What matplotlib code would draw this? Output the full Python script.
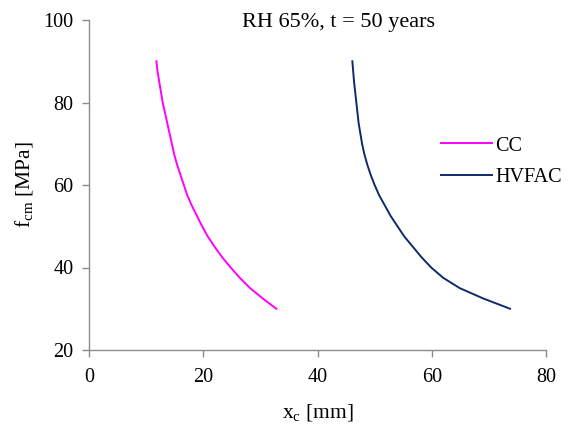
import matplotlib
matplotlib.use("Agg")
import matplotlib.pyplot as plt

plt.rcParams['font.family'] = ['Liberation Serif', 'DejaVu Serif']
plt.rcParams['mathtext.fontset'] = 'custom'
plt.rcParams['mathtext.rm'] = 'Liberation Serif'
plt.rcParams['mathtext.it'] = 'Liberation Serif:italic'

# Data
fcm = [90, 87.5, 85, 82.5, 80, 77.5, 75, 72.5, 70, 67.5, 65, 62.5, 60,
       57.5, 55, 52.5, 50, 47.5, 45, 42.5, 40, 37.5, 35, 32.5, 30]
xc_cc = [11.8, 12.0, 12.3, 12.6, 12.9, 13.3, 13.7, 14.1, 14.5, 14.9, 15.4, 16.0, 16.6,
         17.2, 18.0, 18.9, 19.8, 20.8, 22.0, 23.3, 24.8, 26.4, 28.2, 30.4, 32.8]
xc_hvfac = [46.1, 46.25, 46.4, 46.6, 46.8, 47.0, 47.2, 47.5, 47.8, 48.2, 48.7, 49.3, 50.0,
            50.8, 51.8, 52.8, 54.0, 55.2, 56.7, 58.2, 59.9, 62.0, 64.9, 69.0, 73.7]
xticks = [0, 20, 40, 60, 80]
yticks = [20, 40, 60, 80, 100]
title = "RH 65%, t = 50 years"

fig = plt.figure(figsize=(5.68, 4.30), dpi=100)
ax = fig.add_axes([89/568, 1-350/430, (546-89)/568, (350-20)/430])

ax.plot(xc_cc, fcm, color='#FF00FF', lw=1.4, label='CC')
ax.plot(xc_hvfac, fcm, color='#0F2A6B', lw=1.4, label='HVFAC')

ax.set_xlim(0, 80)
ax.set_ylim(20, 100)
ax.set_xticks(xticks)
ax.set_yticks(yticks)
for s in ['top', 'right']:
    ax.spines[s].set_visible(False)
for s in ['left', 'bottom']:
    ax.spines[s].set_color('#8c8c8c')
    ax.spines[s].set_linewidth(1.0)
ax.tick_params(axis='both', direction='out', length=5, width=1.0,
               color='#8c8c8c', labelsize=14.5)
ax.tick_params(axis='x', pad=8)
ax.tick_params(axis='y', pad=6)

ax.set_xlabel(r"x$_\mathrm{c}$ [mm]", fontsize=15.5, labelpad=11)
ax.set_ylabel(r"f$_\mathrm{cm}$ [MPa]", fontsize=15.5, labelpad=6)

fig.text(338/568, 1-22/430, title, ha='center', va='center', fontsize=16)

ax.legend(loc='center left', bbox_to_anchor=(0.731, 0.571), frameon=False,
          fontsize=14.5, handlelength=2.5, handletextpad=0.2, labelspacing=0.6)

fig.savefig('out.png', dpi=100)
